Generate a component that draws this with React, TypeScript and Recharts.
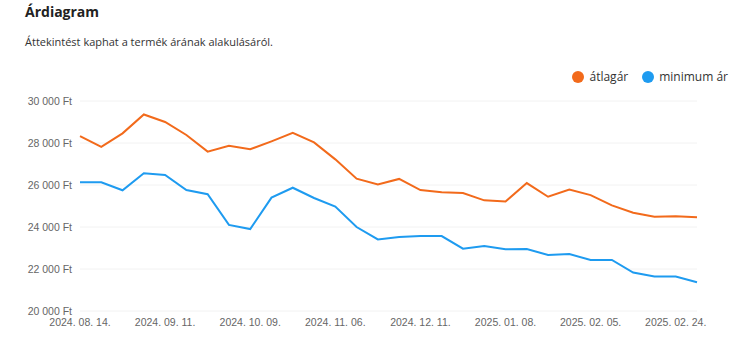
import { LineChart, Line, XAxis, YAxis, CartesianGrid } from "recharts";

const dates = [
    "2024. 08. 14.", "2024. 08. 21.", "2024. 08. 28.", "2024. 09. 04.", "2024. 09. 11.",
    "2024. 09. 18.", "2024. 09. 25.", "2024. 10. 02.", "2024. 10. 09.", "2024. 10. 16.",
    "2024. 10. 23.", "2024. 10. 30.", "2024. 11. 06.", "2024. 11. 13.", "2024. 11. 20.",
    "2024. 12. 04.", "2024. 12. 11.", "2024. 12. 18.", "2024. 12. 25.", "2025. 01. 01.",
    "2025. 01. 08.", "2025. 01. 15.", "2025. 01. 22.", "2025. 01. 29.", "2025. 02. 05.",
    "2025. 02. 12.", "2025. 02. 17.", "2025. 02. 20.", "2025. 02. 24.", "2025. 02. 27.",
];

const avgPrice = [
    28330, 27820, 28460, 29360, 29000, 28380, 27590, 27870, 27700, 28080,
    28480, 28030, 27220, 26300, 26030, 26290, 25760, 25650, 25620, 25270,
    25210, 26090, 25440, 25780, 25520, 25030, 24680, 24490, 24510, 24460,
];

const minPrice = [
    26130, 26130, 25750, 26560, 26480, 25760, 25560, 24100, 23900, 25400,
    25870, 25380, 24970, 24000, 23410, 23520, 23570, 23570, 22970, 23100,
    22940, 22950, 22670, 22710, 22430, 22430, 21830, 21640, 21640, 21370,
];

const yTicks = [20000, 22000, 24000, 26000, 28000, 30000];

const data = dates.map((d, i) => ({ date: d, avg: avgPrice[i], min: minPrice[i] }));

const ORANGE = "#f26a1b";
const BLUE = "#1e9bf0";

const series = [
    { key: "avg", name: "átlagár", color: ORANGE },
    { key: "min", name: "minimum ár", color: BLUE },
];

const formatFt = (v: number) => `${Math.round(v / 1000)} 000 Ft`;

const tickStyle = { fontSize: 10.5, fill: "#666", fontFamily: "'Liberation Sans', Arial, sans-serif" };

export default function App() {
    return (
        <div style={{ position: "absolute", left: 0, top: 0, width: 742, height: 350, background: "#fff" }}>
            <div style={{ position: "absolute", left: 25, top: 2, fontFamily: "'Open Sans', sans-serif", fontWeight: 700, fontSize: 14, color: "#222" }}>
                Árdiagram
            </div>
            <div style={{ position: "absolute", left: 25, top: 34, fontFamily: "'Open Sans', sans-serif", fontSize: 11, color: "#333" }}>
                Áttekintést kaphat a termék árának alakulásáról.
            </div>
            {/* legend kept outside the svg so it doesn't push the plot down */}
            <div style={{ position: "absolute", right: 14, top: 68, display: "flex", gap: 14, fontFamily: "'Open Sans', sans-serif", fontSize: 12, color: "#333" }}>
                {series.map((s) => (
                    <span key={s.key} style={{ display: "flex", alignItems: "center" }}>
                        <span style={{ width: 12, height: 12, borderRadius: 6, background: s.color, marginRight: 5, display: "inline-block" }} />
                        {s.name}
                    </span>
                ))}
            </div>
            <div style={{ position: "absolute", left: 0, top: 60 }}>
                <LineChart width={742} height={290} data={data} margin={{ top: 41, right: 45, bottom: 9, left: 0 }}>
                    <CartesianGrid vertical={false} stroke="#f2f2f2" />
                    <XAxis dataKey="date" interval={3} tickLine={false} axisLine={false} height={30} tick={tickStyle} />
                    <YAxis
                        domain={[20000, 30000]}
                        ticks={yTicks}
                        tickFormatter={formatFt}
                        tickLine={false}
                        axisLine={false}
                        width={80}
                        tick={tickStyle}
                    />
                    {series.map((s) => (
                        <Line key={s.key} type="linear" dataKey={s.key} name={s.name} stroke={s.color} strokeWidth={2} dot={false} isAnimationActive={false} />
                    ))}
                </LineChart>
            </div>
        </div>
    );
}
